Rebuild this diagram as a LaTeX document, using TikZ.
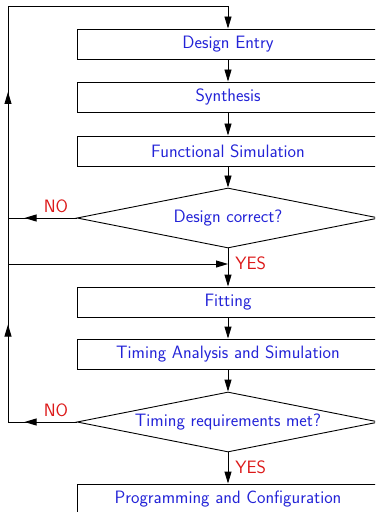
\documentclass[tikz,border=0pt]{standalone}
\usetikzlibrary{shapes.geometric,arrows.meta,decorations.markings}
\definecolor{flowblue}{RGB}{35,35,215}
\definecolor{flowred}{RGB}{220,25,25}
\begin{document}
\begin{tikzpicture}[x=1bp,y=-1bp,
  line width=0.9bp,
  txt/.style={font=\sffamily\fontsize{18}{21}\selectfont},
  stepbox/.style={txt, draw, rectangle, minimum width=302bp, minimum height=30bp,
    inner sep=0pt, text=flowblue},
  decision/.style={txt, draw, diamond, aspect=5, minimum width=302bp,
    minimum height=60bp, inner sep=0pt, text=flowblue},
  answer/.style={txt, text=flowred, inner sep=0pt},
  flow/.style={-{Triangle[length=12bp,width=7bp]}},
  midtip/.style={postaction={decorate},
    decoration={markings, mark=at position #1 with {\arrow{Triangle[length=12bp,width=7bp]}}}},
  midtips/.style 2 args={postaction={decorate},
    decoration={markings,
      mark=at position #1 with {\arrow{Triangle[length=12bp,width=7bp]}},
      mark=at position #2 with {\arrow{Triangle[length=12bp,width=7bp]}}}}
]
\useasboundingbox (0,0) rectangle (375,512);
\clip (0,0) rectangle (375,512);

% process steps and decisions
\node[stepbox] (entry) at (228,44) {Design Entry};
\node[stepbox] (synth) at (228,97) {Synthesis};
\node[stepbox] (fsim)  at (228,151) {Functional Simulation};
\node[decision] (ok)   at (228,218) {Design correct?};
\node[stepbox] (fit)   at (228,302) {Fitting};
\node[stepbox] (tsim)  at (228,354) {Timing Analysis and Simulation};
\node[decision] (met)  at (228,422) {Timing requirements met?};
\node[stepbox] (prog)  at (228,499) {Programming and Configuration};

% feedback rail on the left
\coordinate (top)   at (8,6);
\coordinate (topc)  at (228,6);
\coordinate (rail)  at (8,264);
\coordinate (join)  at (228,264);
\coordinate (no1)   at (8,218);
\coordinate (no2)   at (8,422);

% main flow
\draw[flow] (entry) -- (synth);
\draw[flow] (synth) -- (fsim);
\draw[flow] (fsim) -- (ok);
\draw[flow] (ok) -- (fit);
\draw[flow] (fit) -- (tsim);
\draw[flow] (tsim) -- (met);
\draw[flow] (met) -- (prog);

% loops back to design entry
\draw[flow, midtip=172bp] (rail) -- (top) -- (topc) -- (entry);
\draw[midtip=52bp] (ok.west) -- (no1);
\draw[flow] (rail) -- (join);
\draw[midtips={52bp}{166bp}] (met.west) -- (no2) -- (rail);

% answer labels
\node[answer] at (56,206) {NO};
\node[answer, anchor=west] at (235,263) {YES};
\node[answer] at (56,410) {NO};
\node[answer, anchor=west] at (235,467) {YES};
\end{tikzpicture}
\end{document}
